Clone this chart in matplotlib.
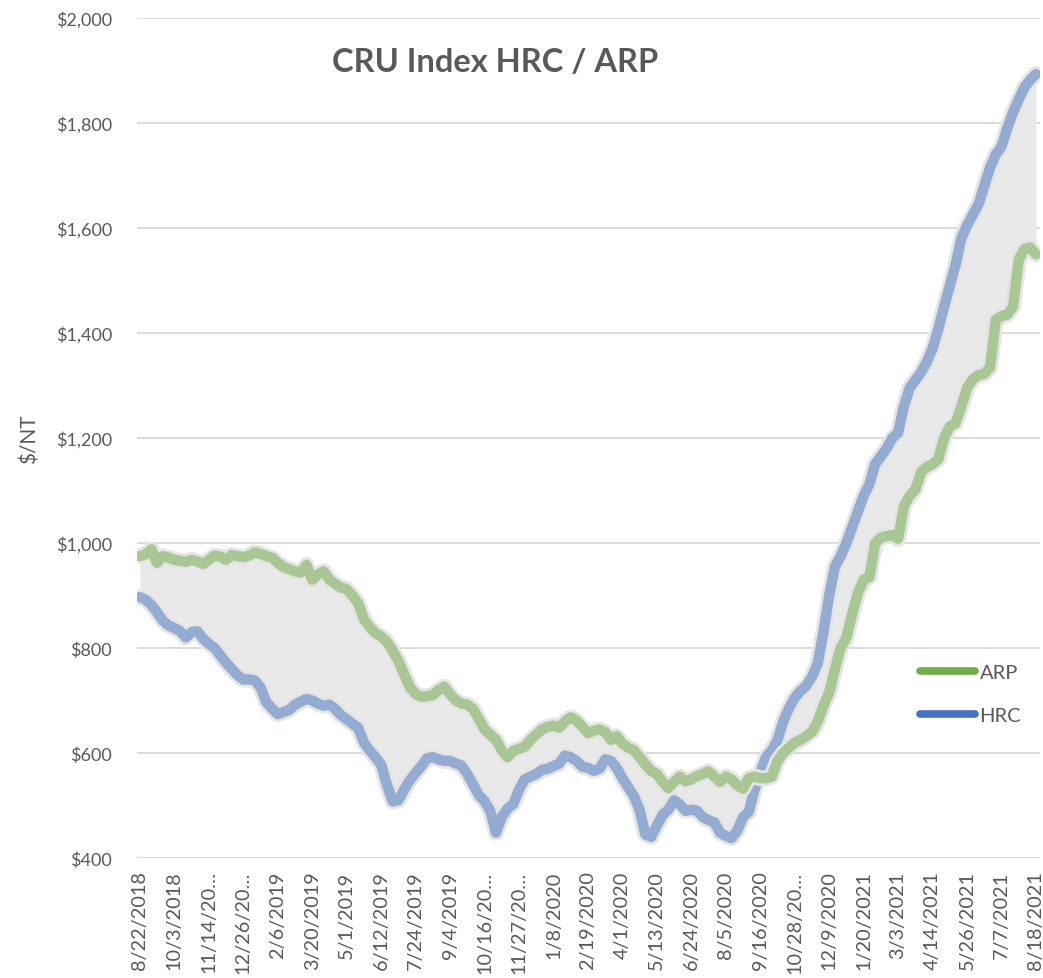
import matplotlib
matplotlib.use("Agg")
import matplotlib.pyplot as plt
import matplotlib.patheffects as pe
from matplotlib.lines import Line2D
from matplotlib.ticker import FuncFormatter, FixedLocator

# Weekly CRU index values, 8/22/2018 .. 8/18/2021 (157 weeks)
arp = [975, 978, 988, 962, 975, 972, 968, 966, 964, 968,
       965, 960, 968, 976, 974, 968, 977, 975, 973, 976,
       982, 979, 975, 972, 962, 954, 950, 946, 944, 958,
       930, 940, 946, 930, 922, 915, 912, 900, 885, 855,
       840, 828, 822, 812, 795, 775, 750, 725, 712, 707,
       708, 710, 720, 726, 712, 700, 694, 692, 684, 665,
       645, 635, 625, 605, 592, 604, 608, 612, 625, 635,
       645, 650, 652, 648, 660, 668, 662, 650, 638, 642,
       645, 640, 625, 632, 618, 610, 605, 592, 578, 566,
       560, 545, 533, 545, 555, 546, 550, 556, 560, 565,
       555, 545, 555, 550, 538, 532, 552, 555, 552, 552,
       555, 585, 600, 610, 620, 625, 632, 640, 660, 690,
       715, 760, 800, 820, 865, 905, 930, 935, 1000, 1010,
       1013, 1015, 1008, 1070, 1090, 1102, 1135, 1145, 1150, 1160,
       1200, 1222, 1228, 1260, 1295, 1312, 1320, 1322, 1335, 1425,
       1432, 1435, 1450, 1540, 1560, 1563, 1550]

hrc = [897, 892, 882, 868, 852, 843, 838, 832, 820, 830,
       832, 818, 808, 800, 786, 772, 760, 748, 740, 740,
       738, 725, 697, 685, 674, 678, 682, 692, 698, 703,
       700, 694, 690, 692, 684, 672, 664, 656, 648, 620,
       605, 592, 578, 540, 508, 510, 530, 548, 562, 575,
       590, 592, 588, 585, 585, 580, 576, 560, 540, 520,
       508, 490, 448, 478, 494, 503, 530, 550, 555, 560,
       568, 570, 575, 580, 595, 592, 585, 574, 572, 566,
       570, 588, 585, 572, 552, 535, 518, 492, 445, 440,
       462, 482, 492, 510, 502, 490, 492, 490, 478, 472,
       468, 448, 442, 438, 452, 478, 488, 530, 562, 592,
       605, 625, 660, 685, 705, 718, 728, 745, 770, 830,
       900, 955, 975, 1000, 1030, 1060, 1090, 1112, 1150, 1165,
       1180, 1200, 1210, 1260, 1295, 1310, 1325, 1345, 1370, 1408,
       1450, 1490, 1530, 1580, 1605, 1625, 1645, 1680, 1715, 1740,
       1755, 1790, 1820, 1845, 1868, 1882, 1893]

tick_labels = ["8/22/2018", "10/3/2018", "11/14/20…", "12/26/20…", "2/6/2019",
               "3/20/2019", "5/1/2019", "6/12/2019", "7/24/2019", "9/4/2019",
               "10/16/20…", "11/27/20…", "1/8/2020", "2/19/2020", "4/1/2020",
               "5/13/2020", "6/24/2020", "8/5/2020", "9/16/2020", "10/28/20…",
               "12/9/2020", "1/20/2021", "3/3/2021", "4/14/2021", "5/26/2021",
               "7/7/2021", "8/18/2021"]
tick_step = 6

plt.rcParams['font.family'] = ['Lato', 'DejaVu Sans']

W, H = 1043, 979
fig = plt.figure(figsize=(W / 100, H / 100), dpi=100)
ax = fig.add_axes([137 / W, 1 - 859 / H, (1040 - 137) / W, (859 - 19) / H])

x = list(range(len(arp)))
TXT = '#595959'

ax.fill_between(x, arp, hrc, color='#E9E9E9', lw=0, zorder=1)

glow = [pe.Stroke(linewidth=11.5, foreground='#E5E5E5'), pe.Normal()]
ax.plot(x, hrc, color='#94ABD2', lw=7.5, solid_joinstyle='round',
        solid_capstyle='round', path_effects=glow, zorder=3)
ax.plot(x, arp, color='#A9C795', lw=7.5, solid_joinstyle='round',
        solid_capstyle='round', path_effects=glow, zorder=3)

ax.set_ylim(400, 2000)
ax.set_xlim(-0.5, len(arp) - 1 + 0.7)
ax.yaxis.set_major_locator(FixedLocator(list(range(400, 2001, 200))))
ax.yaxis.set_major_formatter(FuncFormatter(lambda v, p: f"${int(v):,}"))
ax.grid(axis='y', color='#D9D9D9', lw=1.4, zorder=0)
ax.set_axisbelow(True)

ax.set_xticks(list(range(0, len(arp), tick_step)))
ax.set_xticklabels(tick_labels, rotation=90, ha='center', va='top')
ax.tick_params(axis='both', length=0, colors=TXT)
ax.tick_params(axis='x', pad=9, labelsize=14.3)
ax.tick_params(axis='y', pad=18, labelsize=13)
for s in ax.spines.values():
    s.set_visible(False)

ax.set_ylabel('$/NT', color=TXT, fontsize=15, labelpad=12)

fig.text(495 / W, 1 - 62 / H, 'CRU Index HRC / ARP', ha='center', va='center',
         fontsize=23.5, fontweight='bold', color=TXT)

handles = [Line2D([], [], color='#70AD47', lw=5.5, solid_capstyle='round'),
           Line2D([], [], color='#4472C4', lw=5.5, solid_capstyle='round')]
leg = ax.legend(handles, ['ARP', 'HRC'], loc='upper left',
                bbox_to_anchor=(902 / W, 1 - 647 / H), bbox_transform=fig.transFigure,
                frameon=False, handlelength=2.7, handletextpad=0.25,
                labelspacing=1.3, fontsize=14.5)
for t in leg.get_texts():
    t.set_color(TXT)

fig.savefig('out.png', dpi=100)
